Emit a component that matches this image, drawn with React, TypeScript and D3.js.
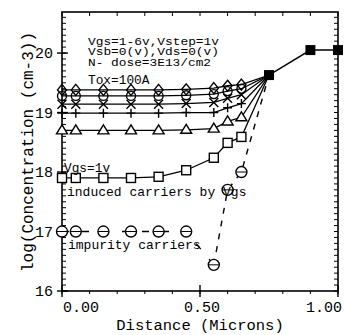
import React from "react";
import * as d3 from "d3";

const W = 344;
const H = 335;

// x positions (microns)
const xPts = [0, 0.05, 0.15, 0.25, 0.35, 0.45, 0.55, 0.6, 0.65, 0.75];
const vgs6 = [19.38, 19.38, 19.38, 19.38, 19.38, 19.39, 19.41, 19.45, 19.47, 19.63];
const vgs5 = [19.28, 19.28, 19.28, 19.28, 19.28, 19.29, 19.31, 19.36, 19.4, 19.63];
const vgs4 = [19.14, 19.14, 19.14, 19.14, 19.14, 19.15, 19.17, 19.24, 19.3, 19.63];
const vgs3 = [18.99, 18.99, 18.99, 18.99, 18.99, 19.0, 19.0, 19.08, 19.15, 19.63];
const vgs2 = [18.7, 18.7, 18.7, 18.7, 18.7, 18.71, 18.73, 18.85, 18.92, 19.63];
const vgs1 = [17.9, 17.9, 17.9, 17.9, 17.92, 18.03, 18.24, 18.49, 18.59, 19.63];

const tailX = [0.75, 0.9, 1.0];
const tailY = [19.63, 20.05, 20.05];

const impX = [0, 0.05, 0.15, 0.25, 0.35, 0.45, 0.55];
const impY = [17.0, 17.0, 17.0, 17.0, 17.0, 17.0, 16.44];

const dashX = [0.55, 0.6, 0.65, 0.75];
const dashY = [16.44, 17.7, 18.0, 19.63];

const xTicks = [0, 0.5, 1.0];
const xTickLabels = ["0.00", "0.50", "1.00"];
const yTicks = [16, 17, 18, 19, 20];

const infoLines = ["Vgs=1-6v,Vstep=1v", "Vsb=0(v),Vds=0(v)", "N- dose=3E13/cm2"];
const infoWidths = [131, 131, 123];

const FONT = "'Liberation Mono', 'DejaVu Sans Mono', monospace";

const L = 62, R = 338, T = 12, B = 291;

export default function App() {
  const x = d3.scaleLinear().domain([0, 1.0]).range([L, R]);
  const y = d3.scaleLinear().domain([16, 20.69]).range([B, T]);
  const line = d3.line<[number, number]>().x(d => x(d[0])).y(d => y(d[1]));

  const zip = (xs: number[], ys: number[]) => xs.map((v, i) => [v, ys[i]] as [number, number]);

  const series = [
    { ys: vgs1, m: "square" },
    { ys: vgs2, m: "triangle" },
    { ys: vgs3, m: "plus" },
    { ys: vgs4, m: "x" },
    { ys: vgs5, m: "circle" },
    { ys: vgs6, m: "diamond" },
  ];

  const marker = (m: string, cx: number, cy: number, key: string) => {
    const s = 4.5;
    const st = { stroke: "#000", strokeWidth: 1.4, fill: "none" } as any;
    switch (m) {
      case "square":
        return <rect key={key} x={cx - s} y={cy - s} width={2 * s} height={2 * s} {...st} fill="#fff" />;
      case "triangle":
        return <path key={key} d={`M${cx},${cy - s - 1}L${cx + s + 1},${cy + s - 1}L${cx - s - 1},${cy + s - 1}Z`} {...st} fill="#fff" />;
      case "plus":
        return <path key={key} d={`M${cx - s},${cy}H${cx + s}M${cx},${cy - s}V${cy + s}`} {...st} />;
      case "x":
        return <path key={key} d={`M${cx - s},${cy - s}L${cx + s},${cy + s}M${cx - s},${cy + s}L${cx + s},${cy - s}`} {...st} />;
      case "circle":
        return <circle key={key} cx={cx} cy={cy} r={s} {...st} />;
      case "diamond":
        return <path key={key} d={`M${cx},${cy - s - 1}L${cx + s},${cy}L${cx},${cy + s + 1}L${cx - s},${cy}Z`} {...st} />;
      case "imp":
        return (
          <g key={key}>
            <circle cx={cx} cy={cy} r={5.5} {...st} fill="#fff" />
            <path d={`M${cx - 5},${cy}H${cx + 5}`} {...st} strokeWidth={1} />
          </g>
        );
      case "filled":
        return <rect key={key} x={cx - 5} y={cy - 5} width={10} height={10} fill="#000" />;
      default:
        return null;
    }
  };

  const minorY = d3.range(16, 20.69, 0.1);
  const minorX = d3.range(0, 1.0001, 0.1);

  return (
    <svg width={W} height={H} style={{ position: "absolute", left: 0, top: 0, background: "#fff" }} fontFamily={FONT}>
      <rect x={0} y={0} width={W} height={H} fill="#fff" />
      {/* frame */}
      <rect x={L} y={T} width={R - L} height={B - T} fill="none" stroke="#000" strokeWidth={1.6} />
      {/* minor ticks */}
      {minorY.map((v, i) => (
        <g key={"my" + i}>
          <line x1={L} x2={L + 4} y1={y(v)} y2={y(v)} stroke="#000" strokeWidth={1} />
          <line x1={R} x2={R - 4} y1={y(v)} y2={y(v)} stroke="#000" strokeWidth={1} />
        </g>
      ))}
      {minorX.map((v, i) => (
        <g key={"mx" + i}>
          <line x1={x(v)} x2={x(v)} y1={T} y2={T + 4} stroke="#000" strokeWidth={1} />
          <line x1={x(v)} x2={x(v)} y1={B} y2={B + 3} stroke="#000" strokeWidth={1} />
        </g>
      ))}
      {/* major ticks */}
      {yTicks.map(v => (
        <g key={"yt" + v}>
          <line x1={L - 5} x2={L + 6} y1={y(v)} y2={y(v)} stroke="#000" strokeWidth={1.4} />
          <text x={53} y={y(v) + 5} textAnchor="end" fontSize={15}>{v}</text>
        </g>
      ))}
      {xTicks.map((v, i) => (
        <g key={"xt" + v}>
          <line x1={x(v)} x2={x(v)} y1={B - 6} y2={B + 6} stroke="#000" strokeWidth={1.4} />
          <text x={i === 0 ? x(v) + 1 : i === 2 ? x(v) + 4 : x(v) + 2} y={312}
            textAnchor={i === 0 ? "start" : i === 2 ? "end" : "middle"} fontSize={15}>{xTickLabels[i]}</text>
        </g>
      ))}
      {/* axis labels */}
      <text x={200} y={330} textAnchor="middle" fontSize={15.5}>Distance (Microns)</text>
      <text transform={`translate(33,152) rotate(-90)`} textAnchor="middle" fontSize={16}>log(Concentration (cm-3))</text>

      {/* Vgs series lines */}
      {series.map((s, i) => (
        <path key={"l" + i} d={line(zip(xPts, s.ys)) || ""} fill="none" stroke="#000" strokeWidth={1.3} />
      ))}
      {/* impurity */}
      <path d={line(zip(impX, impY)) || ""} fill="none" stroke="#000" strokeWidth={1.3} strokeDasharray="7 13" />
      <path d={line(zip(dashX, dashY)) || ""} fill="none" stroke="#000" strokeWidth={1.4} strokeDasharray="6 7" />
      {/* tail */}
      <path d={line(zip(tailX, tailY)) || ""} fill="none" stroke="#000" strokeWidth={1.4} />

      {/* markers */}
      {series.map((s, i) =>
        xPts.slice(0, 9).map((xv, j) => marker(s.m, x(xv), y(s.ys[j]), `m${i}-${j}`))
      )}
      {impX.map((xv, j) => marker("imp", x(xv), y(impY[j]), `imp${j}`))}
      {dashX.slice(1, 3).map((xv, j) => marker("imp", x(xv), y(dashY[j + 1]), `d${j}`))}
      {tailX.map((xv, j) => marker("filled", x(xv), y(tailY[j]), `t${j}`))}

      {/* annotations */}
      {infoLines.map((t, i) => (
        <text key={"info" + i} x={88} y={44.5 + i * 10.6} fontSize={10}
          textLength={infoWidths[i]} lengthAdjust="spacingAndGlyphs">{t}</text>
      ))}
      <text x={88} y={84} fontSize={12.8}>Tox=100A</text>
      <text x={64} y={172} fontSize={12.8}>Vgs=1v</text>
      <text x={67} y={196} fontSize={13}>induced carriers by Vgs</text>
      <text x={68} y={249} fontSize={13}>impurity carriers</text>
    </svg>
  );
}
